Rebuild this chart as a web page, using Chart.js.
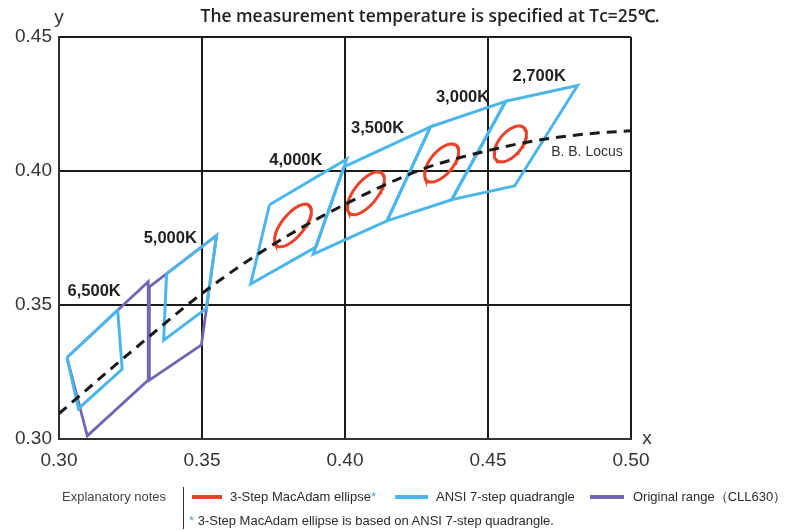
<!DOCTYPE html>
<html><head><meta charset="utf-8">
<script src="https://cdn.jsdelivr.net/npm/chart.js@4/dist/chart.umd.min.js"></script>
<style>
html,body{margin:0;padding:0;background:#fff;}
#wrap{position:relative;width:790px;height:531px;overflow:hidden;font-family:"Liberation Sans",Arial,sans-serif;}
#c{position:absolute;left:0;top:0;}
.lg{position:absolute;white-space:nowrap;font-size:13px;line-height:16px;color:#2a2a2a;}
.sw{position:absolute;height:4px;}
.ast{color:#39b1e6;}
.bar{position:absolute;left:183px;top:487px;width:1px;height:42px;background:#333;}
</style></head><body>
<div id="wrap">
<canvas id="c" width="790" height="531"></canvas>
<div class="lg" style="left:62px;top:489px;color:#444;">Explanatory notes</div>
<div class="bar"></div>
<div class="sw" style="left:192px;top:495px;width:30px;background:#e8422b;"></div>
<div class="lg" style="left:230px;top:489px;">3-Step MacAdam ellipse<span class="ast">*</span></div>
<div class="sw" style="left:395px;top:495px;width:33px;background:#4db6e8;"></div>
<div class="lg" style="left:436px;top:489px;">ANSI 7-step quadrangle</div>
<div class="sw" style="left:590px;top:495px;width:34px;background:#7167b1;"></div>
<div class="lg" style="left:633px;top:489px;">Original range（CLL630）</div>
<div class="lg" style="left:189px;top:513px;"><span class="ast">*</span> 3-Step MacAdam ellipse is based on ANSI 7-step quadrangle.</div>
</div>
<script>
// ---- data (CIE 1931 x, y) ----
const xTicks = [0.30, 0.35, 0.40, 0.45, 0.50];
const yTicks = [0.30, 0.35, 0.40, 0.45];

const cctLabels = ['6,500K', '5,000K', '4,000K', '3,500K', '3,000K', '2,700K'];

// ANSI 7-step quadrangles (corner x / corner y)
const ansi6500X = [0.3028, 0.3205, 0.3221, 0.3068];
const ansi6500Y = [0.3304, 0.3481, 0.3261, 0.3113];
const ansi5000X = [0.3376, 0.3551, 0.3515, 0.3366];
const ansi5000Y = [0.3616, 0.3760, 0.3487, 0.3369];
const ansi4000X = [0.3736, 0.4006, 0.3898, 0.3670];
const ansi4000Y = [0.3874, 0.4044, 0.3716, 0.3578];
const ansi3500X = [0.3996, 0.4299, 0.4147, 0.3889];
const ansi3500Y = [0.4015, 0.4165, 0.3814, 0.3690];
const ansi3000X = [0.4299, 0.4562, 0.4373, 0.4147];
const ansi3000Y = [0.4165, 0.4260, 0.3893, 0.3814];
const ansi2700X = [0.4562, 0.4813, 0.4593, 0.4373];
const ansi2700Y = [0.4260, 0.4319, 0.3944, 0.3893];

// Original range (CLL630)
const orig6500X = [0.3028, 0.3312, 0.3312, 0.3099];
const orig6500Y = [0.3304, 0.3587, 0.3220, 0.3012];
const orig5000X = [0.3316, 0.3551, 0.3498, 0.3316];
const orig5000Y = [0.3568, 0.3760, 0.3351, 0.3220];

// 3-step MacAdam ellipses: centre, semi-axes, tilt (deg) for 4000K, 3500K, 3000K, 2700K
const ellCx = [0.3818, 0.4073, 0.4338, 0.4578];
const ellCy = [0.3797, 0.3917, 0.4030, 0.4101];
const ellA  = [0.00939, 0.00939, 0.00834, 0.00774];
const ellB  = [0.00402, 0.00417, 0.00408, 0.00411];
const ellTheta = [53.7, 54.0, 53.2, 53.7];

// Black-body locus
const locusX = [0.3000, 0.3224, 0.3516, 0.3749, 0.4017, 0.4274, 0.4507, 0.4671, 0.4852, 0.5000];
const locusY = [0.3095, 0.3300, 0.3556, 0.3726, 0.3885, 0.4008, 0.4078, 0.4114, 0.4139, 0.4150];

// ---- annotation placement (data coordinates, label centres) ----
const labelAtX = [0.3123, 0.3389, 0.3828, 0.4114, 0.4411, 0.4679];
const labelAtY = [0.3552, 0.3748, 0.4038, 0.4157, 0.4274, 0.4352];
const locusLabelAt = {x: 0.4846, y: 0.4072};

// ---- helpers ----
const zipPts = (xs, ys) => xs.map((x, i) => ({x, y: ys[i]}));
const closed = (xs, ys) => { const p = zipPts(xs, ys); p.push(p[0]); return p; };
function ellipsePts(i) {
  const t = ellTheta[i] * Math.PI / 180, pts = [];
  for (let k = 0; k <= 96; k++) {
    const p = k / 96 * 2 * Math.PI;
    const u = ellA[i] * Math.cos(p), v = ellB[i] * Math.sin(p);
    pts.push({x: ellCx[i] + u * Math.cos(t) - v * Math.sin(t),
              y: ellCy[i] + u * Math.sin(t) + v * Math.cos(t)});
  }
  return pts;
}

const BLUE = '#4db6e8', RED = '#e8422b', PURPLE = '#7167b1';
const lineDs = (data, color, w, order, extra) => Object.assign({
  data, borderColor: color, borderWidth: w, showLine: true, pointRadius: 0,
  fill: false, tension: 0, order, borderJoinStyle: 'miter'
}, extra || {});

const datasets = [];
datasets.push(lineDs(zipPts(locusX, locusY), '#1a1a1a', 3, 0,
  {borderDash: [10, 7], cubicInterpolationMode: 'monotone', borderCapStyle: 'butt'}));
for (let i = 0; i < ellCx.length; i++) datasets.push(lineDs(ellipsePts(i), RED, 3, 1));
[[ansi6500X, ansi6500Y], [ansi5000X, ansi5000Y], [ansi4000X, ansi4000Y],
 [ansi3500X, ansi3500Y], [ansi3000X, ansi3000Y], [ansi2700X, ansi2700Y]]
  .forEach(([xs, ys]) => datasets.push(lineDs(closed(xs, ys), BLUE, 3, 2)));
[[orig6500X, orig6500Y], [orig5000X, orig5000Y]]
  .forEach(([xs, ys]) => datasets.push(lineDs(closed(xs, ys), PURPLE, 2.8, 3)));

const textPlugin = {
  id: 'texts',
  afterDraw(chart) {
    const ctx = chart.ctx, xs = chart.scales.x, ys = chart.scales.y;
    ctx.save();
    // title
    ctx.fillStyle = '#231f20';
    ctx.font = '600 17.4px "Open Sans", sans-serif';
    ctx.textAlign = 'center'; ctx.textBaseline = 'middle';
    ctx.fillText('The measurement temperature is specified at Tc=25℃.', 430, 17);
    // axis names
    ctx.fillStyle = '#333';
    ctx.font = '19px "Liberation Sans", Arial, sans-serif';
    ctx.fillText('y', 59, 18);
    ctx.fillText('x', 647, 439);
    // CCT labels
    ctx.fillStyle = '#231f20';
    ctx.font = 'bold 16.5px "Liberation Sans", Arial, sans-serif';
    cctLabels.forEach((t, i) => {
      ctx.fillText(t, xs.getPixelForValue(labelAtX[i]), ys.getPixelForValue(labelAtY[i]));
    });
    ctx.fillStyle = '#333';
    ctx.font = '14px "Liberation Sans", Arial, sans-serif';
    ctx.fillText('B. B. Locus', xs.getPixelForValue(locusLabelAt.x), ys.getPixelForValue(locusLabelAt.y));
    ctx.restore();
  }
};

new Chart(document.getElementById('c'), {
  type: 'scatter',
  data: {datasets},
  options: {
    responsive: false, animation: false, devicePixelRatio: 1,
    layout: {padding: {left: 0, right: 159, top: 37, bottom: 57}},
    plugins: {legend: {display: false}, tooltip: {enabled: false}, title: {display: false}},
    scales: {
      x: {
        type: 'linear', min: 0.30, max: 0.50,
        afterBuildTicks: s => { s.ticks = xTicks.map(v => ({value: v})); },
        afterFit: s => { s.height = 35; },
        ticks: {padding: 10, color: '#333', font: {size: 19, family: '"Liberation Sans", Arial, sans-serif'},
                callback: v => Number(v).toFixed(2), maxRotation: 0, autoSkip: false},
        grid: {color: '#1a1a1a', lineWidth: 2, drawTicks: false},
        border: {display: true, color: '#333', width: 2}
      },
      y: {
        type: 'linear', min: 0.30, max: 0.45,
        afterBuildTicks: s => { s.ticks = yTicks.map(v => ({value: v})); },
        afterFit: s => { s.width = 59; },
        ticks: {padding: 7, color: '#333', font: {size: 19, family: '"Liberation Sans", Arial, sans-serif'},
                callback: v => Number(v).toFixed(2), autoSkip: false},
        grid: {color: '#1a1a1a', lineWidth: 2, drawTicks: false},
        border: {display: true, color: '#333', width: 2}
      }
    }
  },
  plugins: [textPlugin]
});
</script>
</body></html>
